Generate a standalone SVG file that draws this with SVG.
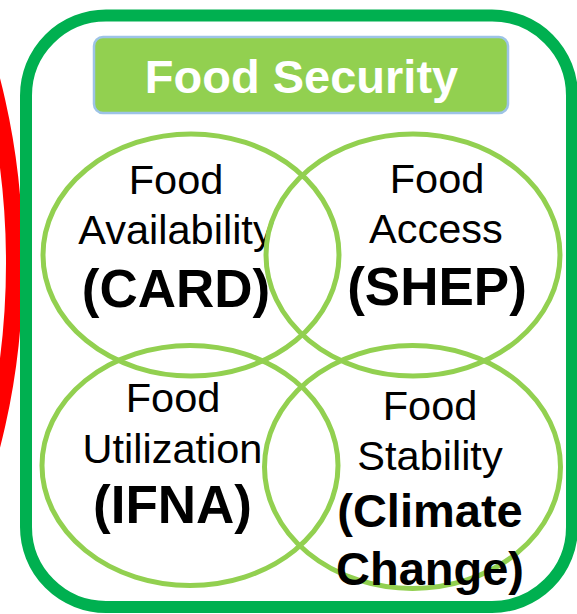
<svg xmlns="http://www.w3.org/2000/svg" width="577" height="614" viewBox="0 0 577 614">
  <style>
    .ring { fill: none; stroke: #92D050; stroke-width: 5; }
    .reg { font-family: "Liberation Sans", Arial, sans-serif; font-size: 41.5px; fill: #000; text-anchor: middle; }
    .bold { font-family: "Liberation Sans", Arial, sans-serif; font-weight: bold; font-size: 53px; fill: #000; text-anchor: middle; }
    .bold-s { font-family: "Liberation Sans", Arial, sans-serif; font-weight: bold; font-size: 47px; fill: #000; text-anchor: middle; }
    .title { font-family: "Liberation Sans", Arial, sans-serif; font-weight: bold; font-size: 47px; fill: #FFFFFF; text-anchor: middle; }
  </style>
  <rect width="577" height="614" fill="#FFFFFF"/>
  <g id="red-arc">
    <ellipse cx="-235.5" cy="263" rx="250" ry="438" fill="none" stroke="#FF0000" stroke-width="17"/>
  </g>
  <g id="frame">
    <rect x="26" y="15.5" width="546" height="591.5" rx="80" ry="80" fill="none" stroke="#00B050" stroke-width="12"/>
  </g>
  <g id="title">
    <rect x="94" y="37" width="414" height="76" rx="9" ry="9" fill="#92D050" stroke="#9DC3E6" stroke-width="2.5"/>
    <text class="title" x="301.5" y="93">Food Security</text>
  </g>
  <g id="availability">
    <ellipse class="ring" cx="191" cy="255" rx="148" ry="121"/>
    <text class="reg" x="176" y="194">Food</text>
    <text class="reg" x="176" y="244">Availability</text>
    <text class="bold" x="176" y="307">(CARD)</text>
  </g>
  <g id="access">
    <ellipse class="ring" cx="413" cy="255" rx="147" ry="121"/>
    <text class="reg" x="437" y="193">Food</text>
    <text class="reg" x="436" y="243">Access</text>
    <text class="bold" x="437" y="305">(SHEP)</text>
  </g>
  <g id="utilization">
    <ellipse class="ring" cx="190" cy="465.5" rx="148" ry="120"/>
    <text class="reg" x="173" y="412">Food</text>
    <text class="reg" x="172.5" y="463">Utilization</text>
    <text class="bold" x="172.5" y="523">(IFNA)</text>
  </g>
  <g id="stability">
    <ellipse class="ring" cx="412.5" cy="467" rx="148" ry="121.5"/>
    <text class="reg" x="430" y="420">Food</text>
    <text class="reg" x="430" y="470">Stability</text>
    <text class="bold-s" x="430" y="527">(Climate</text>
    <text class="bold-s" x="430" y="585">Change)</text>
  </g>
</svg>
